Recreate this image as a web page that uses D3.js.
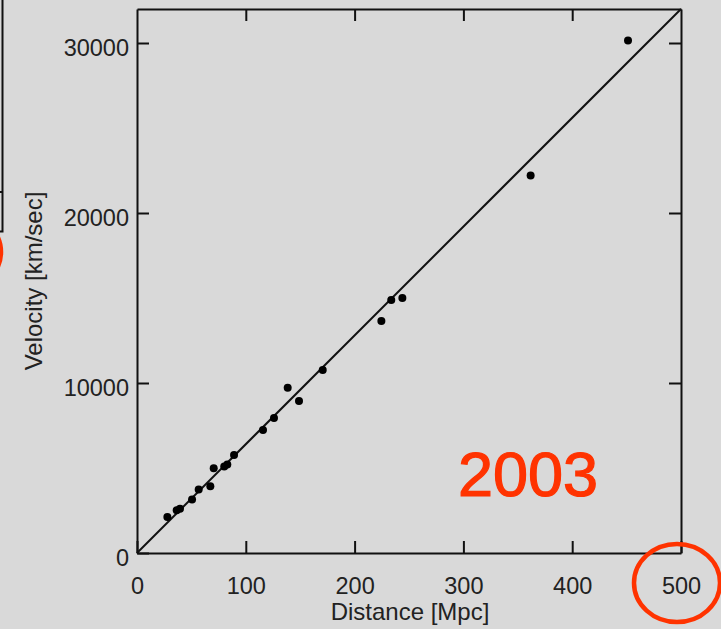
<!DOCTYPE html>
<html>
<head>
<meta charset="utf-8">
<script src="https://cdn.jsdelivr.net/npm/d3@7"></script>
<style>
  html, body { margin: 0; padding: 0; background: #d9d9d9; }
  svg { display: block; }
  text { font-family: "Liberation Sans", Arial, Helvetica, sans-serif; }
</style>
</head>
<body>
<svg id="chart" width="721" height="629"></svg>
<script>
// Data (Hubble diagram, 2003)
const distance = [27.9, 36.5, 39.5, 50.6, 56.7, 67.4, 70.5, 80.2, 83.0, 89.2,
                  115.8, 125.9, 138.5, 148.9, 170.7, 224.6, 233.7, 243.9, 361.8, 451.3];
const velocity = [2120, 2510, 2610, 3150, 3740, 3920, 4980, 5090, 5210, 5770,
                  7240, 7940, 9720, 8940, 10770, 13650, 14880, 15000, 22210, 30150];
const fitLine = [[0, 0], [500, 32000]];
const xTicks = [0, 100, 200, 300, 400, 500];
const yTicks = [0, 10000, 20000, 30000];
const xLabel = "Distance [Mpc]";
const yLabel = "Velocity [km/sec]";
const yearLabel = "2003";

const svg = d3.select("#chart");
const x = d3.scaleLinear().domain([0, 500]).range([137, 681]);
const y = d3.scaleLinear().domain([0, 32000]).range([553, 9]);

const ink = "#111";
const txt = "#222";
const fmt = d3.format("d");

// partial neighbouring chart at far left
const left = svg.append("g");
left.append("path").attr("d", "M2.5,0 V231.5 H-2").attr("fill", "none").attr("stroke", ink).attr("stroke-width", 2);
left.append("line").attr("x1", -2).attr("x2", 2.5).attr("y1", 192).attr("y2", 192).attr("stroke", ink).attr("stroke-width", 2);
left.append("ellipse").attr("cx", -41).attr("cy", 252).attr("rx", 42).attr("ry", 38)
  .attr("fill", "none").attr("stroke", "#ff3300").attr("stroke-width", 4.5);

function styleAxis(g) {
  g.selectAll("path.domain").attr("stroke", ink).attr("stroke-width", 2);
  g.selectAll(".tick line").attr("stroke", ink).attr("stroke-width", 2);
  g.selectAll(".tick text").attr("fill", txt).attr("font-size", 23.5)
    .attr("font-family", "'Liberation Sans', Arial, Helvetica, sans-serif");
}

// bottom axis
const gb = svg.append("g").attr("transform", `translate(0,${y(0)})`)
  .call(d3.axisBottom(x).tickValues(xTicks).tickFormat(fmt).tickSize(-12).tickSizeOuter(0).tickPadding(24));
styleAxis(gb);

// left axis
const gl = svg.append("g").attr("transform", `translate(${x(0)},0)`)
  .call(d3.axisLeft(y).tickValues(yTicks).tickFormat(fmt).tickSize(-12).tickSizeOuter(0).tickPadding(8));
styleAxis(gl);
gl.selectAll(".tick text").attr("dy", "0.55em");

// top axis (ticks only)
const gt = svg.append("g").attr("transform", `translate(0,${y(32000)})`)
  .call(d3.axisTop(x).tickValues(xTicks.slice(1, -1)).tickSize(-12).tickSizeOuter(0).tickFormat(""));
styleAxis(gt);

// right axis (ticks only)
const gr = svg.append("g").attr("transform", `translate(${x(500)},0)`)
  .call(d3.axisRight(y).tickValues(yTicks.slice(1)).tickSize(-12).tickSizeOuter(0).tickFormat(""));
styleAxis(gr);

// fit line
svg.append("path")
  .datum(fitLine)
  .attr("d", d3.line().x(d => x(d[0])).y(d => y(d[1])))
  .attr("fill", "none").attr("stroke", ink).attr("stroke-width", 2);

// points
svg.append("g").selectAll("circle")
  .data(distance.map((d, i) => [d, velocity[i]]))
  .join("circle")
  .attr("cx", d => x(d[0])).attr("cy", d => y(d[1])).attr("r", 4)
  .attr("fill", "#000");

// axis titles
svg.append("text").attr("x", 410).attr("y", 620).attr("text-anchor", "middle")
  .attr("font-size", 24).attr("fill", txt).text(xLabel);
svg.append("text").attr("transform", "translate(42,281) rotate(-90)").attr("text-anchor", "middle")
  .attr("font-size", 24).attr("fill", txt).text(yLabel);

// year label
svg.append("text").attr("x", 528).attr("y", 496).attr("text-anchor", "middle")
  .attr("font-size", 63).attr("fill", "#ff3300")
  .attr("stroke", "#ff3300").attr("stroke-width", 1.2).text(yearLabel);

// red circle around 500
svg.append("ellipse").attr("cx", 677).attr("cy", 583).attr("rx", 43).attr("ry", 39)
  .attr("fill", "none").attr("stroke", "#ff3300").attr("stroke-width", 4.5);
</script>
</body>
</html>
